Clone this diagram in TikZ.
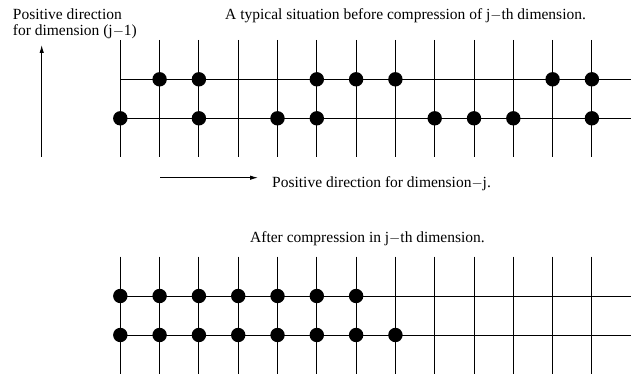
\documentclass[tikz,border=0pt]{standalone}
\usepackage{fontspec}
\setmainfont{Liberation Serif}
\usetikzlibrary{arrows.meta}

\begin{document}
\begin{tikzpicture}[x=1pt, y=-1pt,
  gridline/.style={line width=0.9pt},
  gridpoint/.style={circle, fill=black, inner sep=0pt, minimum size=14.4pt},
  caption/.style={font=\fontsize{15.5}{16}\selectfont, inner sep=0pt},
  dirarrow/.style={line width=1pt, -{Latex[length=8pt, width=4.5pt]}}]

\useasboundingbox (0,0) rectangle (631,379);

% Direction arrows and their texts
\node[caption, align=left, anchor=north west] (updir) at (12.7,8.6) {Positive direction\\for dimension (j$-$1)};
\coordinate (upfrom) at (41.7,157);
\coordinate (upto) at (41.7,45);
\draw[dirarrow] (upfrom) -- (upto);

\coordinate (rightfrom) at (160,177.7);
\coordinate (rightto) at (258,177.7);
\draw[dirarrow] (rightfrom) -- (rightto);
\node[caption, anchor=base west] (rightdir) at (272,187.7) {Positive direction for dimension$-$j.};

% Grid before compression
\node[caption, anchor=base west] (before) at (225,20) {A typical situation before compression of j$-$th dimension.};
\foreach \i in {0,...,12}
  \draw[gridline] (120.3+39.3*\i,40) -- (120.3+39.3*\i,157);
\foreach \y in {79.3,118.3}
  \draw[gridline] (120.3,\y) -- (631,\y);
\foreach \i in {1,2,5,6,7,11,12}
  \node[gridpoint] (a\i) at (120.3+39.3*\i,79.3) {};
\foreach \i in {0,2,4,5,8,9,10,12}
  \node[gridpoint] (b\i) at (120.3+39.3*\i,118.3) {};

% Grid after compression
\node[caption, anchor=base west] (after) at (250,242.3) {After compression in j$-$th dimension.};
\foreach \i in {0,...,12}
  \draw[gridline] (120.3+39.3*\i,256.7) -- (120.3+39.3*\i,374);
\foreach \y in {296,335}
  \draw[gridline] (120.3,\y) -- (631,\y);
\foreach \i in {0,...,6}
  \node[gridpoint] (c\i) at (120.3+39.3*\i,296) {};
\foreach \i in {0,...,7}
  \node[gridpoint] (d\i) at (120.3+39.3*\i,335) {};

\end{tikzpicture}
\end{document}
